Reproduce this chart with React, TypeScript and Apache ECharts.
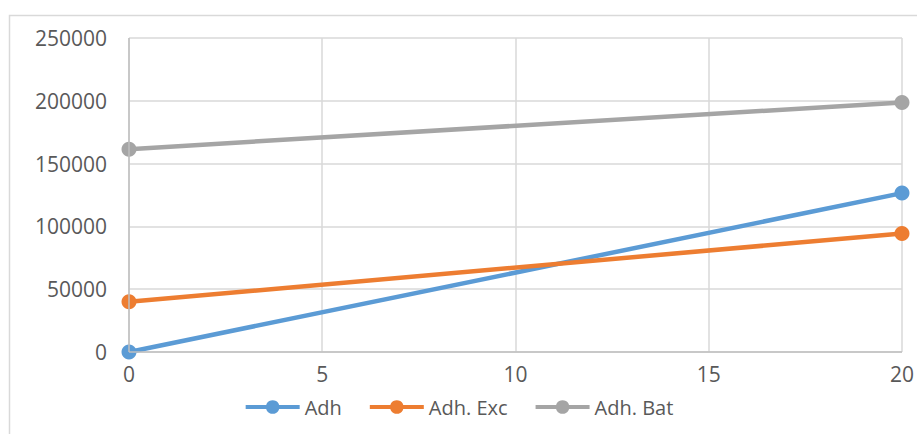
import React, { useEffect, useRef } from "react";
import * as echarts from "echarts";

// x positions and series values
const xValues = [0, 20];
const adh = [0, 126500];
const adhExc = [40000, 94400];
const adhBat = [161500, 198700];
const seriesNames = ["Adh", "Adh. Exc", "Adh. Bat"];
const seriesColors = ["#5B9BD5", "#ED7D31", "#A5A5A5"];

const FONT = "'Open Sans', 'Liberation Sans', sans-serif";
const TEXT_COLOR = "#595959";

export default function App() {
  const ref = useRef<HTMLDivElement>(null);

  useEffect(() => {
    if (!ref.current) return;
    const chart = echarts.init(ref.current, undefined, { renderer: "svg" });
    const values = [adh, adhExc, adhBat];
    chart.setOption({
      animation: false,
      backgroundColor: "#ffffff",
      graphic: [
        {
          type: "rect",
          shape: { x: 9.5, y: 15.5, width: 1000, height: 1000 },
          style: { fill: "none", stroke: "#d9d9d9", lineWidth: 1.5 },
          silent: true,
        },
      ],
      grid: { left: 129, right: 14, top: 38, bottom: 82 },
      xAxis: {
        type: "value",
        min: 0,
        max: 20,
        interval: 5,
        axisLine: { show: false },
        axisTick: { show: false },
        splitLine: { show: true, lineStyle: { color: "#d9d9d9", width: 1.5 } },
        axisLabel: {
          color: TEXT_COLOR,
          fontFamily: FONT,
          fontSize: 21,
          margin: 11,
        },
      },
      yAxis: {
        type: "value",
        min: 0,
        max: 250000,
        interval: 50000,
        axisLine: { show: false },
        axisTick: { show: false },
        splitLine: { show: true, lineStyle: { color: "#d9d9d9", width: 1.5 } },
        axisLabel: {
          color: TEXT_COLOR,
          fontFamily: FONT,
          fontSize: 21,
          margin: 22,
          formatter: (v: number) => String(v),
        },
      },
      legend: {
        bottom: 12,
        left: "center",
        itemWidth: 54,
        itemHeight: 17,
        itemGap: 26,
        lineStyle: { width: 4 },
        textStyle: { color: TEXT_COLOR, fontFamily: FONT, fontSize: 20 },
        data: seriesNames,
      },
      series: [
        ...seriesNames.map((name, i) => ({
          name,
          type: "line",
          data: xValues.map((x, j) => [x, values[i][j]]),
          color: seriesColors[i],
          lineStyle: { width: 4.5, color: seriesColors[i] },
          itemStyle: { color: seriesColors[i] },
          symbol: "circle",
          symbolSize: 15,
          z: 3,
        })),
        {
          // axis lines drawn over the grid
          type: "line",
          data: [],
          markLine: {
            silent: true,
            symbol: "none",
            label: { show: false },
            lineStyle: { color: "#bfbfbf", width: 1.5, type: "solid" },
            data: [{ xAxis: 0 }, { yAxis: 0 }],
          },
          z: 2,
        },
      ],
    });
    return () => chart.dispose();
  }, []);

  return (
    <div
      ref={ref}
      style={{ position: "fixed", left: 0, top: 0, width: 917, height: 434 }}
    />
  );
}
